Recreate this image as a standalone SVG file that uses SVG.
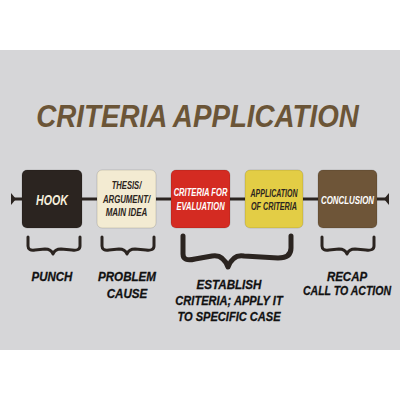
<svg xmlns="http://www.w3.org/2000/svg" width="400" height="400" viewBox="0 0 400 400">
<defs>
<style>
.t{font-family:"Liberation Sans",Arial,sans-serif;font-weight:bold;font-style:italic;text-anchor:middle}
.box{stroke:#00000022;stroke-width:1}
.lbl{font-size:13.5px;fill:#111;stroke:#111;stroke-width:0.3}
.in{font-size:10px}
.br{fill:none;stroke:#2b2420;stroke-linecap:round;stroke-linejoin:round}
</style>
</defs>
<rect x="0" y="0" width="400" height="400" fill="#ffffff"/>
<rect x="0" y="50" width="400" height="300" fill="#d6d6d8"/>
<text class="t" transform="translate(197.5,127) scale(0.91,1)" font-size="30.5" fill="#6b5537">CRITERIA APPLICATION</text>
<g id="connectors">
<line x1="12" y1="199" x2="388" y2="199" stroke="#2b2420" stroke-width="3"/>
<path d="M11,193 L16,199 L11,205 Z" fill="#2b2420"/>
<path d="M389,193 L384,199 L389,205 Z" fill="#2b2420"/>
</g>
<g id="hook">
<rect class="box" x="22" y="170" width="60" height="58" rx="5" fill="#2b2420"/>
<text class="t" transform="translate(52,205) scale(0.76,1)" font-size="14" fill="#f6efdc">HOOK</text>
</g>
<g id="thesis">
<rect class="box" x="97" y="170" width="59" height="58" rx="5" fill="#f3ebd2"/>
<text class="t in" transform="translate(126.5,189) scale(0.76,1)" fill="#2b2420">THESIS/</text>
<text class="t in" transform="translate(126.5,203) scale(0.78,1)" fill="#2b2420">ARGUMENT/</text>
<text class="t in" transform="translate(126.5,216) scale(0.8,1)" fill="#2b2420">MAIN IDEA</text>
</g>
<g id="criteria">
<rect class="box" x="171" y="170" width="59" height="58" rx="5" fill="#d42b22"/>
<text class="t in" transform="translate(200.5,196) scale(0.76,1)" fill="#fff">CRITERIA FOR</text>
<text class="t in" transform="translate(200.5,210) scale(0.76,1)" fill="#fff">EVALUATION</text>
</g>
<g id="application">
<rect class="box" x="245" y="170" width="58" height="58" rx="5" fill="#e3cd45"/>
<text class="t in" transform="translate(274,197) scale(0.7,1)" fill="#2b2420">APPLICATION</text>
<text class="t in" transform="translate(274,210) scale(0.72,1)" fill="#2b2420">OF CRITERIA</text>
</g>
<g id="conclusion">
<rect class="box" x="318" y="170" width="59" height="58" rx="5" fill="#6e5538"/>
<text class="t in" transform="translate(347.5,204) scale(0.79,1)" fill="#fff">CONCLUSION</text>
</g>
<g id="braces">
<path class="br" stroke-width="3" d="M28,237 L28,246 Q28,251 35,250 L45,249 Q51,249 53,254 Q55,249 61,249 L72,250 Q80,251 80,246 L80,237"/>
<path class="br" stroke-width="3" d="M102,237 L102,246 Q102,251 109,250 L119,249 Q125,249 127,254 Q129,249 135,249 L146,250 Q154,251 154,246 L154,237"/>
<path class="br" stroke-width="5" d="M183,236 L183,254 Q183,262 195,259 L212,256 Q223,254 228,267 Q233,254 244,256 L278,258 Q291,258 291,248 L291,236"/>
<path class="br" stroke-width="3" d="M322,237 L322,246 Q322,251 329,250 L339,249 Q345,249 347,254 Q349,249 355,249 L366,250 Q374,251 374,246 L374,237"/>
</g>
<g id="labels">
<text class="t lbl" transform="translate(52,281) scale(0.85,1)">PUNCH</text>
<text class="t lbl" transform="translate(127,281) scale(0.86,1)">PROBLEM</text>
<text class="t lbl" transform="translate(127,298) scale(0.86,1)">CAUSE</text>
<text class="t lbl" transform="translate(229,289) scale(0.86,1)">ESTABLISH</text>
<text class="t lbl" transform="translate(229,305) scale(0.82,1)">CRITERIA; APPLY IT</text>
<text class="t lbl" transform="translate(229,321) scale(0.82,1)">TO SPECIFIC CASE</text>
<text class="t lbl" transform="translate(347,281) scale(0.85,1)">RECAP</text>
<text class="t lbl" transform="translate(347,295) scale(0.78,1)">CALL TO ACTION</text>
</g>
</svg>
